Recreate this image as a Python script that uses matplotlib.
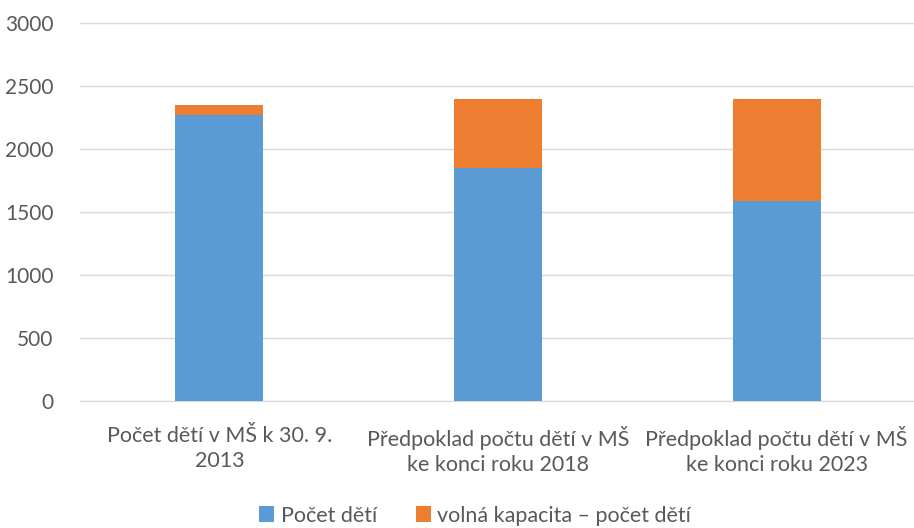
import matplotlib
matplotlib.use('Agg')
import matplotlib.pyplot as plt
import numpy as np

# Data
categories = ['Počet dětí v MŠ k 30. 9.\n2013',
              'Předpoklad počtu dětí v MŠ\nke konci roku 2018',
              'Předpoklad počtu dětí v MŠ\nke konci roku 2023']
pocet_deti = [2270, 1850, 1590]
volna_kapacita = [80, 550, 810]
series_names = ['Počet dětí', 'volná kapacita – počet dětí']
yticks = [0, 500, 1000, 1500, 2000, 2500, 3000]

plt.rcParams['font.family'] = ['Lato', 'DejaVu Sans']
text_color = '#595959'
fs = 15.5

fig = plt.figure(figsize=(9.14, 5.28), dpi=100)
ax = fig.add_axes([80 / 914, 1 - 401 / 528, 836 / 914, 378 / 528])

x = np.arange(len(categories))
w = 0.315
ax.bar(x, pocet_deti, w, color='#5b9bd5', label=series_names[0], zorder=3)
ax.bar(x, volna_kapacita, w, bottom=pocet_deti, color='#ed7d31',
       label=series_names[1], zorder=3)

ax.set_ylim(0, 3000)
ax.set_xlim(-0.5, 2.5)
ax.set_yticks(yticks)
ax.set_yticklabels([str(v) for v in yticks], fontsize=15, color=text_color)
ax.set_xticks(x)
ax.set_xticklabels(categories, fontsize=fs, color=text_color, linespacing=1.3)
ax.tick_params(axis='both', length=0)
ax.tick_params(axis='y', pad=19)
ax.tick_params(axis='x', pad=18)

ax.grid(axis='y', color='#d9d9d9', linewidth=1, zorder=0)
for s in ['top', 'right', 'left']:
    ax.spines[s].set_visible(False)
ax.spines['bottom'].set_color('#d9d9d9')

leg = fig.legend(loc='lower center', bbox_to_anchor=(0.52, -0.032), ncol=2,
                 frameon=False, fontsize=fs, handlelength=0.7,
                 handleheight=0.7, columnspacing=1.8, handletextpad=0.3)
for t in leg.get_texts():
    t.set_color(text_color)

fig.savefig('out.png', dpi=100)
